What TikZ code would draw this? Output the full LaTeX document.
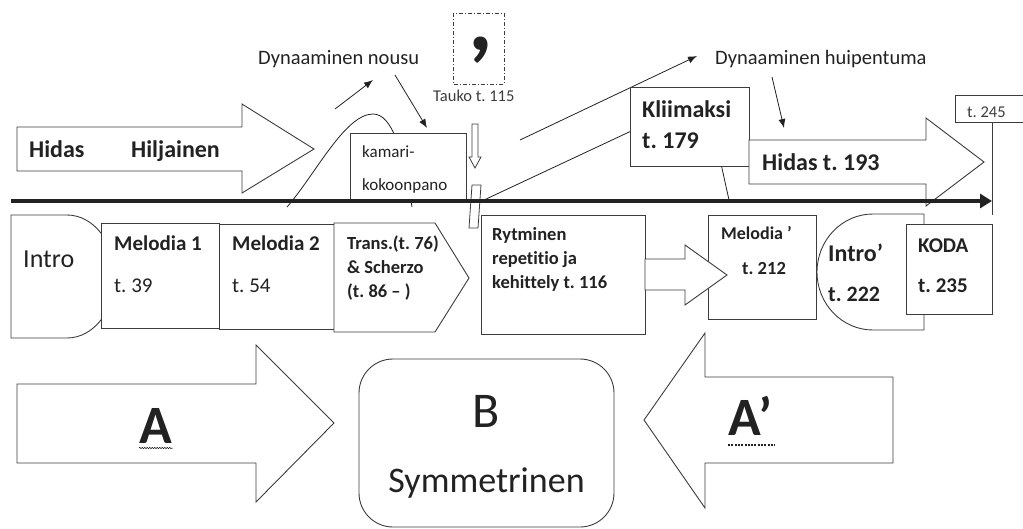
\documentclass[tikz,border=0pt]{standalone}
\usepackage{fontspec}
\setmainfont{Carlito}[Ligatures={NoCommon}]
\usetikzlibrary{arrows.meta,decorations.pathmorphing}

\definecolor{ink}{HTML}{222222}
\definecolor{edge}{HTML}{3C3C3C}

\newcommand\fsz[1]{\fontsize{#1}{#1}\selectfont}
\frenchspacing

\tikzset{
  outline/.style={draw=edge, line width=0.9pt, fill=white, line join=miter},
  lbl/.style={inner sep=0pt, anchor=base west, text=ink},
  pointer/.style={draw=ink, line width=0.8pt, -{Latex[length=9pt,width=7pt]}},
  thinline/.style={draw=ink, line width=0.8pt},
  timeline/.style={draw=ink, line width=4pt, -{Triangle[length=12pt,width=14pt]}},
}

\begin{document}
\begin{tikzpicture}[x=1pt,y=-1pt]
\useasboundingbox (0,0) rectangle (1023,528);

% ---------- dynamic rise curve and climax peak (behind the boxes) ----------
\draw[thinline] (287,207) .. controls (315,175) and (345,114) .. (373,114)
                          .. controls (392,114) and (403,150) .. (412,207);
\coordinate (pkL) at (484,200);
\coordinate (pk)  at (706,96);
\coordinate (pkR) at (729,200);
\draw[thinline] (pkL) -- (pk) -- (pkR);

% ---------- upper band ----------
\draw[outline] (17,127) -- (242,127) -- (242,104) -- (314,149) -- (242,193)
               -- (242,171) -- (17,171) -- cycle;
\node[lbl, font=\fsz{24}\bfseries] (hidas1) at (29,157) {Hidas};
\node[lbl, font=\fsz{24}\bfseries] (hiljainen) at (131,157) {Hiljainen};

\draw[outline] (350,133) rectangle (466,201);
\node[lbl, font=\fsz{17}] (kamari) at (362,157) {kamari-};
\node[lbl, font=\fsz{17}] (kokoon) at (362,190) {kokoonpano};

\node[lbl, font=\fsz{20.5}] (nousu) at (258,64) {Dynaaminen nousu};
\coordinate (nA0) at (335,109);
\coordinate (nA1) at (373,80);
\coordinate (nB0) at (395,75);
\coordinate (nB1) at (427,128);
\draw[pointer] (nA0) -- (nA1);
\draw[pointer] (nB0) -- (nB1);

% pause mark
\draw[draw=edge, line width=0.8pt, dash pattern=on 4pt off 2pt on 1pt off 2pt]
  (453,13) rectangle (504,84);
\node[inner sep=0pt, anchor=center, text=ink, font=\fsz{96}\bfseries] (comma) at (481,50) {,};
\node[lbl, font=\fsz{16.5}, text=edge] (tauko) at (433,101) {Tauko t. 115};
\draw[outline, line width=0.8pt] (472,124) -- (478,124) -- (478,157) -- (481,157)
  -- (475,168) -- (469,157) -- (472,157) -- cycle;
\draw[outline, line width=0.8pt] (472,185) -- (481,185) -- (478,228) -- (469,228) -- cycle;

\coordinate (hA0) at (520,140);
\coordinate (hA1) at (697,56);
\draw[pointer] (hA0) -- (hA1);
\node[lbl, font=\fsz{20.5}] (huip) at (715,64) {Dynaaminen huipentuma};
\coordinate (hB0) at (772,77);
\coordinate (hB1) at (784,128);
\draw[pointer] (hB0) -- (hB1);

\draw[outline] (630,87) rectangle (749,166);
\node[lbl, font=\fsz{24}\bfseries] (kliim) at (642,117) {Kliimaksi};
\node[lbl, font=\fsz{24}\bfseries] (k179) at (642,148) {t. 179};

\draw[outline] (749,140) -- (926,140) -- (926,118) -- (984,162) -- (926,206)
               -- (926,184) -- (749,184) -- cycle;
\node[lbl, font=\fsz{24}\bfseries] (hidas2) at (762,170) {Hidas t. 193};

% end marker
\draw[draw=edge, line width=0.8pt] (1023,95) -- (955,95) -- (955,122) -- (1023,122);
\node[lbl, font=\fsz{16.5}, text=edge] (t245) at (967,117) {t. 245};
\coordinate (endtop) at (992,122);
\coordinate (endbot) at (992,215);
\draw[draw=edge, line width=0.9pt] (endtop) -- (endbot);

% ---------- time axis ----------
\coordinate (tl0) at (11,201);
\coordinate (tl1) at (992,201);
\draw[timeline] (tl0) -- (tl1);

% ---------- section row ----------
\draw[outline] (11,215) -- (67,215) arc[start angle=-90, end angle=90, x radius=48, y radius=61.5]
               -- (11,338) -- cycle;
\node[lbl, font=\fsz{26}] (intro) at (23,267) {Intro};

\draw[outline] (101,223) rectangle (219,328);
\node[lbl, font=\fsz{21}\bfseries] (mel1) at (114,250) {Melodia 1};
\node[lbl, font=\fsz{21}] (t39) at (114,292) {t. 39};

\draw[outline] (219,224) rectangle (334,329);
\node[lbl, font=\fsz{21}\bfseries] (mel2) at (232,250) {Melodia 2};
\node[lbl, font=\fsz{21}] (t54) at (232,292) {t. 54};

\draw[outline] (334,223) -- (435,223) -- (469,278) -- (435,332) -- (334,332) -- cycle;
\node[lbl, font=\fsz{18.5}\bfseries] (trans1) at (347,249) {Trans.(t. 76)};
\node[lbl, font=\fsz{18.5}\bfseries] (trans2) at (347,273) {\& Scherzo};
\node[lbl, font=\fsz{18.5}\bfseries] (trans3) at (347,297) {(t. 86 – )};

\draw[outline] (481,215) rectangle (645,334);
\node[lbl, font=\fsz{18.5}\bfseries] (ryt1) at (492,240) {Rytminen};
\node[lbl, font=\fsz{18.5}\bfseries] (ryt2) at (492,264) {repetitio ja};
\node[lbl, font=\fsz{18.5}\bfseries] (ryt3) at (492,288) {kehittely t. 116};

\draw[outline] (708,215) rectangle (816,319);
\node[lbl, font=\fsz{18}\bfseries] (melp) at (721,239) {Melodia ’};
\node[lbl, font=\fsz{18.5}\bfseries] (t212) at (742,274) {t. 212};

\draw[outline] (645,259) -- (685,259) -- (685,245) -- (727,275) -- (685,305)
               -- (685,290) -- (645,290) -- cycle;

\draw[outline] (924,214) -- (873,214) arc[start angle=-90, end angle=-270, x radius=56, y radius=58]
               -- (924,330) -- cycle;
\node[lbl, font=\fsz{24}\bfseries] (intro2) at (828,261) {Intro’};
\node[lbl, font=\fsz{22}\bfseries] (t222) at (828,301) {t. 222};

\draw[outline] (906,224) rectangle (992,314);
\node[lbl, font=\fsz{21}\bfseries] (koda) at (918,252) {KODA};
\node[lbl, font=\fsz{21}\bfseries] (t235) at (918,292) {t. 235};

% ---------- form overview ----------
\draw[outline] (17,384) -- (256,384) -- (256,345) -- (334,423) -- (256,502)
               -- (256,463) -- (17,463) -- cycle;
\node[lbl, font=\fsz{54}\bfseries] (partA) at (139,443) {A};
\draw[draw=ink, line width=0.5pt, decorate,
      decoration={snake, amplitude=0.8pt, segment length=2.5pt}] (139,448) -- (173,448);

\draw[outline, rounded corners=34pt] (359,359) rectangle (614,527);
\node[inner sep=0pt, anchor=base, text=ink, font=\fsz{50}] (partB) at (486.5,427) {B};
\node[inner sep=0pt, anchor=base, text=ink, font=\fsz{36}] (symm) at (486.5,492) {Symmetrinen};

\draw[outline] (893,377) -- (705,377) -- (705,333) -- (644,420) -- (705,508)
               -- (705,463) -- (893,463) -- cycle;
\node[lbl, font=\fsz{54}\bfseries] (partA2) at (728,435) {A’};
\draw[draw=ink, line width=2pt, dash pattern=on 2pt off 1.3pt] (728,444.5) -- (775,444.5);

\end{tikzpicture}
\end{document}
